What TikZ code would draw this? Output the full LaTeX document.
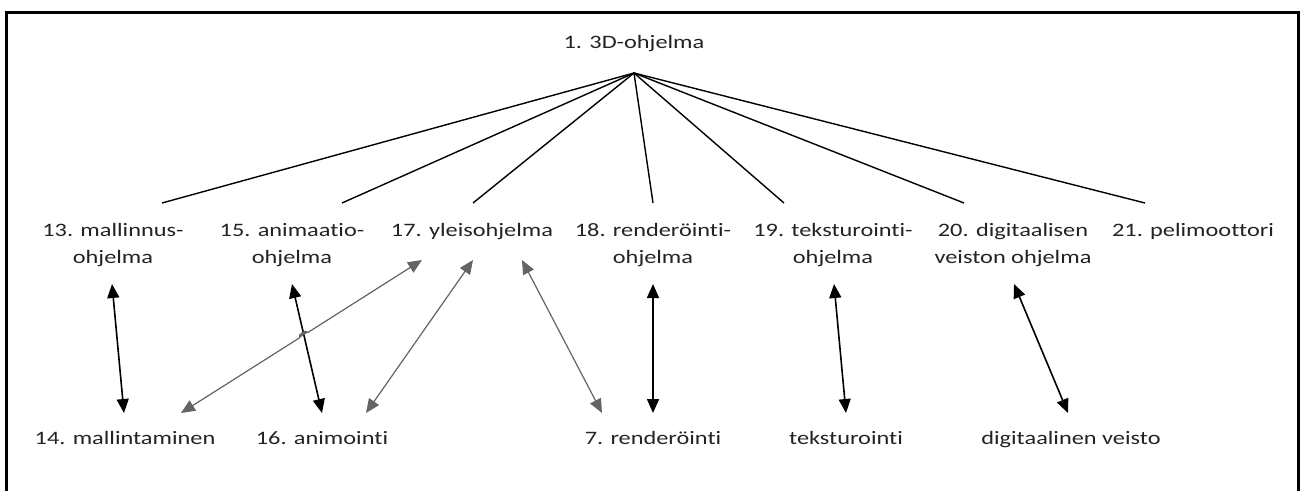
\documentclass[tikz,border=0pt]{standalone}
\usepackage{fontspec}
\setmainfont{Carlito}[FakeStretch=1.28,Ligatures={NoCommon}]
\usetikzlibrary{arrows.meta,calc}
\definecolor{txt}{RGB}{35,35,35}
\definecolor{arrgray}{RGB}{100,100,100}
\begin{document}
\begin{tikzpicture}[x=1pt,y=-1pt,
  lbl/.style={text=txt, font=\fontsize{19}{27}\selectfont, inner sep=0pt, align=center, anchor=base},
  spoke/.style={line width=1.4pt, draw=black},
  barrow/.style={line width=1.6pt, draw=black, {Triangle[length=14pt,width=12pt]}-{Triangle[length=14pt,width=12pt]}},
  garrow/.style={line width=1.2pt, draw=arrgray, fill=arrgray, {Triangle[length=14pt,width=12pt]}-{Triangle[length=14pt,width=12pt]}}]
\useasboundingbox (0,0) rectangle (1301,491);
\draw[line width=3pt] (6,491) -- (6,12) -- (1298.5,12) -- (1298.5,491);

% title and hub
\node[lbl] (n1) at (634,48) {1. 3D-ohjelma};
\coordinate (hub) at (634,73);

% level 2 (base anchor = baseline of the last line)
\node[lbl] (n13) at (113,263) {13. mallinnus-\\ohjelma};
\node[lbl] (n15) at (292,263) {15. animaatio-\\ohjelma};
\node[lbl] (n17) at (472,236) {17. yleisohjelma};
\node[lbl] (n18) at (653,263) {18. renderöinti-\\ohjelma};
\node[lbl] (n19) at (833,263) {19. teksturointi-\\ohjelma};
\node[lbl] (n20) at (1013,263) {20. digitaalisen\\veiston ohjelma};
\node[lbl] (n21) at (1193,236) {21. pelimoottori};

% level 3
\node[lbl] (n14) at (125,444) {14. mallintaminen};
\node[lbl] (n16) at (322,444) {16. animointi};
\node[lbl] (n7) at (653,444) {7. renderöinti};
\node[lbl] (ntek) at (846,444) {teksturointi};
\node[lbl] (ndv) at (1071,444) {digitaalinen veisto};

% spoke ends
\coordinate (s13) at (162,203);
\coordinate (s15) at (342,203);
\coordinate (s17) at (473,203);
\coordinate (s18) at (653,203);
\coordinate (s19) at (784,203);
\coordinate (s20) at (964,203);
\coordinate (s21) at (1145,203);
\foreach \s in {s13,s15,s17,s18,s19,s20,s21} \draw[spoke] (hub) -- (\s);

% arrow ends
\coordinate (a13) at (112,284);  \coordinate (b14) at (124,413);
\coordinate (a15) at (292,284);  \coordinate (b16) at (322,413);
\coordinate (a17l) at (422,260); \coordinate (b14g) at (181,413);
\coordinate (a17m) at (473,260); \coordinate (b16g) at (366,413);
\coordinate (a17r) at (522,260); \coordinate (b7g) at (602,413);
\coordinate (a18) at (653,284);  \coordinate (b7) at (653,413);
\coordinate (a19) at (834,284);  \coordinate (btek) at (846,413);
\coordinate (a20) at (1014,284); \coordinate (bdv) at (1068,413);

\draw[barrow] (a13) -- (b14);
\draw[barrow] (a15) -- (b16);
\draw[barrow] (a18) -- (b7);
\draw[barrow] (a19) -- (btek);
\draw[barrow] (a20) -- (bdv);

\coordinate (X) at (intersection of a17l--b14g and a15--b16);
\draw[garrow] (a17l) -- ($(X)!5pt!(a17l)$) to[bend right=90] ($(X)!5pt!(b14g)$) -- (b14g);
\draw[garrow] (a17m) -- (b16g);
\draw[garrow] (a17r) -- (b7g);
\end{tikzpicture}
\end{document}
